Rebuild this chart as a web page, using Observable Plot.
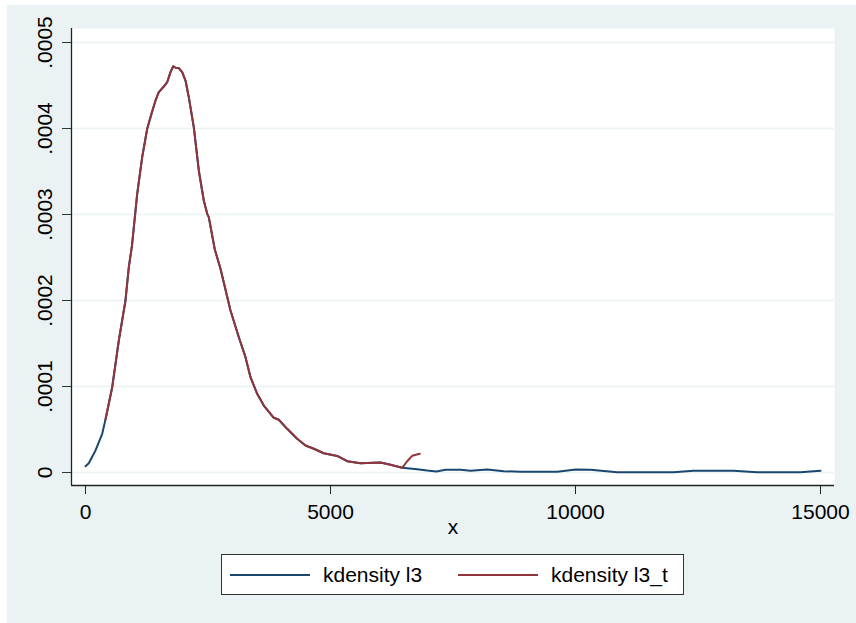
<!DOCTYPE html>
<html>
<head>
<meta charset="utf-8">
<script src="https://cdn.jsdelivr.net/npm/d3@7"></script>
<script src="https://cdn.jsdelivr.net/npm/@observablehq/plot@0.6"></script>
<style>
  html, body { margin: 0; padding: 0; background: #ffffff; }
  #wrap { position: absolute; left: 7px; top: 5px; width: 849px; height: 618px; background: #eaf2f3;
          font-family: "Liberation Sans", Arial, sans-serif; }
  #chart { position: absolute; left: 0; top: 0; }
  #legend { position: absolute; left: 214px; top: 549px; width: 463px; height: 41px; box-sizing: border-box;
            border: 1px solid #333; background: #fff; font-size: 21px; color: #000; }
  .item { position: absolute; top: 0; height: 39px; display: flex; align-items: center; }
  .sw { display: inline-block; width: 80px; height: 0; border-top: 2px solid; margin-right: 13px; }
</style>
</head>
<body>
<div id="wrap">
  <div id="chart"></div>
  <div id="legend"></div>
</div>
<script>
// kdensity l3 (blue)
const xL3 = [0, 67, 204, 341, 408, 545, 680, 816, 884, 949, 1055, 1157, 1259, 1347, 1429, 1496, 1598, 1667, 1735, 1790, 1837, 1904, 1973, 2041, 2108, 2210, 2312, 2414, 2484, 2516, 2639, 2755, 2959, 3129, 3265, 3367, 3504, 3639, 3843, 3945, 4116, 4320, 4490, 4659, 4863, 5137, 5341, 5612, 6020, 6224, 6463, 6769, 6973, 7163, 7347, 7653, 7857, 8198, 8537, 8878, 9627, 10006, 10306, 10851, 12000, 12408, 13224, 13708, 14592, 15000];
const yL3 = [0.0000073, 0.0000108, 0.0000256, 0.0000450, 0.0000616, 0.0000992, 0.0001535, 0.0002000, 0.0002387, 0.0002640, 0.0003240, 0.0003667, 0.0003997, 0.0004171, 0.0004326, 0.0004422, 0.0004488, 0.0004538, 0.0004655, 0.0004724, 0.0004706, 0.0004701, 0.0004655, 0.0004558, 0.0004364, 0.0004015, 0.0003512, 0.0003163, 0.0003008, 0.0002969, 0.0002593, 0.0002369, 0.0001884, 0.0001573, 0.0001341, 0.0001108, 0.0000915, 0.0000779, 0.0000636, 0.0000613, 0.0000508, 0.0000392, 0.0000314, 0.0000276, 0.0000224, 0.0000192, 0.0000131, 0.0000108, 0.0000116, 0.0000090, 0.0000055, 0.0000038, 0.0000023, 0.0000012, 0.0000031, 0.0000031, 0.0000020, 0.0000035, 0.0000015, 0.0000008, 0.0000008, 0.0000035, 0.0000031, 0.0000003, 0.0000003, 0.0000020, 0.0000020, 0.0000003, 0.0000003, 0.0000020];

// kdensity l3_t (red)
const xL3t = [408, 545, 680, 816, 884, 949, 1055, 1157, 1259, 1347, 1429, 1496, 1598, 1667, 1735, 1790, 1837, 1904, 1973, 2041, 2108, 2210, 2312, 2414, 2484, 2516, 2639, 2755, 2959, 3129, 3265, 3367, 3504, 3639, 3843, 3945, 4116, 4320, 4490, 4659, 4863, 5137, 5341, 5612, 6020, 6224, 6463, 6565, 6667, 6822];
const yL3t = [0.0000616, 0.0000992, 0.0001535, 0.0002000, 0.0002387, 0.0002640, 0.0003240, 0.0003667, 0.0003997, 0.0004171, 0.0004326, 0.0004422, 0.0004488, 0.0004538, 0.0004655, 0.0004724, 0.0004706, 0.0004701, 0.0004655, 0.0004558, 0.0004364, 0.0004015, 0.0003512, 0.0003163, 0.0003008, 0.0002969, 0.0002593, 0.0002369, 0.0001884, 0.0001573, 0.0001341, 0.0001108, 0.0000915, 0.0000779, 0.0000636, 0.0000613, 0.0000508, 0.0000392, 0.0000314, 0.0000276, 0.0000224, 0.0000192, 0.0000131, 0.0000108, 0.0000116, 0.0000090, 0.0000055, 0.0000131, 0.0000194, 0.0000217];

const xTicks = [0, 5000, 10000, 15000];
const yTicks = [0, 0.0001, 0.0002, 0.0003, 0.0004, 0.0005];
const yTickLabels = ["0", ".0001", ".0002", ".0003", ".0004", ".0005"];
const seriesNames = ["kdensity l3", "kdensity l3_t"];
const seriesColors = ["#1a476f", "#90353b"];
const xTitle = "x";

const l3 = xL3.map((x, i) => ({x, y: yL3[i]}));
const l3t = xL3t.map((x, i) => ({x, y: yL3t[i]}));

const chart = Plot.plot({
  width: 849,
  height: 545,
  marginLeft: 64,
  marginRight: 22,
  marginTop: 23,
  marginBottom: 65,
  style: {background: "transparent", fontFamily: "'Liberation Sans', Arial, sans-serif", fontSize: "21px", color: "#000"},
  x: {domain: [0, 15000], insetLeft: 14, insetRight: 14},
  y: {domain: [0, 0.0005], insetTop: 14, insetBottom: 13},
  marks: [
    Plot.frame({fill: "#ffffff", stroke: null}),
    Plot.gridY(yTicks, {stroke: "#eaf2f3", strokeOpacity: 1, strokeWidth: 1.6}),
    Plot.ruleX([0], {dx: -14, stroke: "#222", strokeWidth: 1.3}),
    Plot.ruleY([0], {dy: 13, stroke: "#222", strokeWidth: 1.3}),
    Plot.axisY(yTicks, {tickSize: 9, tickFormat: () => "", stroke: "#333", label: null}),
    Plot.text(yTicks, {y: d => d, text: (d, i) => yTickLabels[i], frameAnchor: "left", textAnchor: "middle", lineAnchor: "middle", dx: -26, rotate: -90, fontSize: 21, fill: "#000"}),
    Plot.axisX(xTicks, {tickSize: 9, tickPadding: 10, tickFormat: d => String(d), fontSize: 21, stroke: "#222", fill: "#000", label: null}),
    Plot.text([xTitle], {frameAnchor: "bottom", dy: 48, fontSize: 21, fill: "#000"}),
    Plot.line(l3, {x: "x", y: "y", stroke: seriesColors[0], strokeWidth: 2}),
    Plot.line(l3t, {x: "x", y: "y", stroke: seriesColors[1], strokeWidth: 2})
  ]
});
document.getElementById("chart").appendChild(chart);

const legend = document.getElementById("legend");
const itemLefts = [8, 236];
seriesNames.forEach((name, i) => {
  const it = document.createElement("div");
  it.className = "item";
  it.style.left = itemLefts[i] + "px";
  const sw = document.createElement("span");
  sw.className = "sw";
  sw.style.borderTopColor = seriesColors[i];
  const tx = document.createElement("span");
  tx.textContent = name;
  it.appendChild(sw);
  it.appendChild(tx);
  legend.appendChild(it);
});
</script>
</body>
</html>
